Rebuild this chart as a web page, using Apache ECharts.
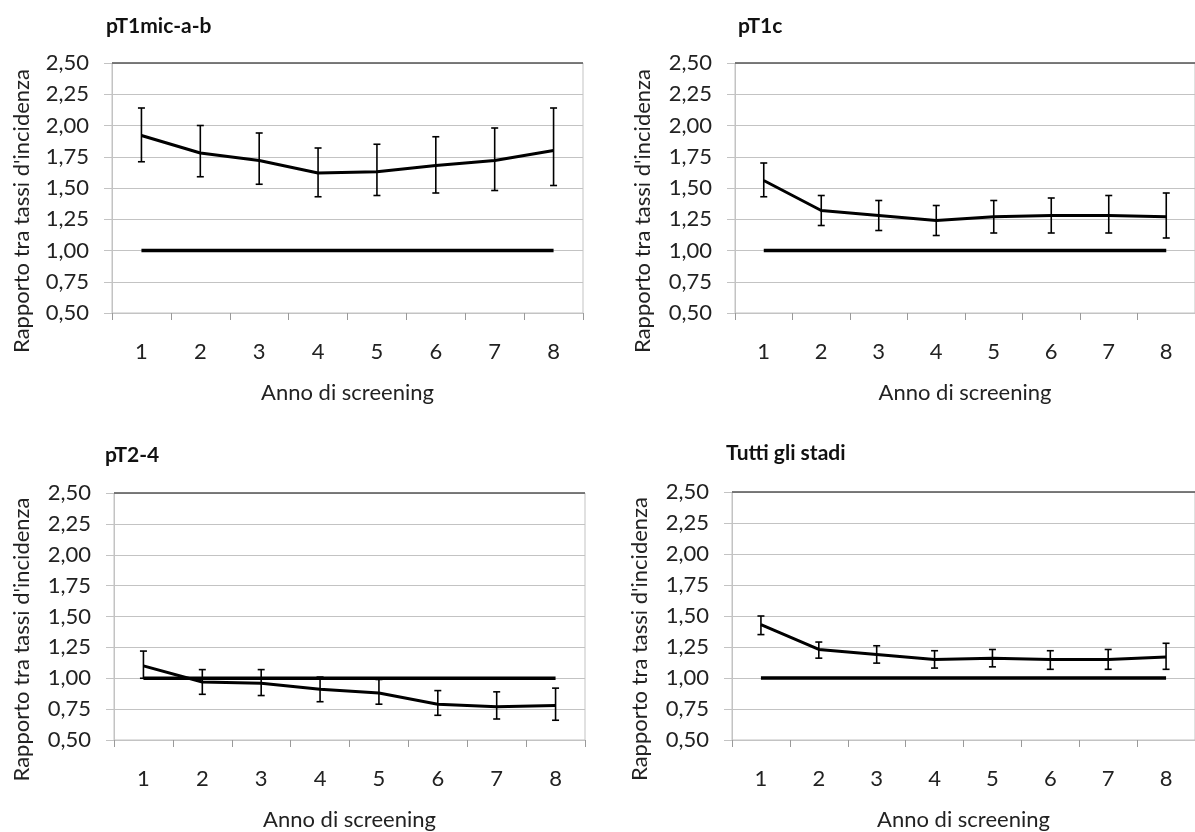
<!DOCTYPE html>
<html>
<head>
<meta charset="utf-8">
<script src="https://cdn.jsdelivr.net/npm/echarts@6/dist/echarts.min.js"></script>
<style>
  html, body { margin: 0; padding: 0; background: #ffffff; }
  #chart { width: 1195px; height: 832px; }
</style>
</head>
<body>
<div id="chart"></div>
<script>
// Screening years on the x axis
const years = ['1', '2', '3', '4', '5', '6', '7', '8'];
const yTicks = [0.5, 0.75, 1.0, 1.25, 1.5, 1.75, 2.0, 2.25, 2.5];
const reference = [1, 1, 1, 1, 1, 1, 1, 1];

// pT1mic-a-b
const rrMic = [1.92, 1.78, 1.72, 1.62, 1.63, 1.68, 1.72, 1.80];
const loMic = [1.71, 1.59, 1.53, 1.43, 1.44, 1.46, 1.48, 1.52];
const hiMic = [2.14, 2.00, 1.94, 1.82, 1.85, 1.91, 1.98, 2.14];

// pT1c
const rrT1c = [1.56, 1.32, 1.28, 1.24, 1.27, 1.28, 1.28, 1.27];
const loT1c = [1.43, 1.20, 1.16, 1.12, 1.14, 1.14, 1.14, 1.10];
const hiT1c = [1.70, 1.44, 1.40, 1.36, 1.40, 1.42, 1.44, 1.46];

// pT2-4
const rrT24 = [1.10, 0.97, 0.96, 0.91, 0.88, 0.79, 0.77, 0.78];
const loT24 = [1.00, 0.87, 0.86, 0.81, 0.79, 0.70, 0.67, 0.66];
const hiT24 = [1.22, 1.07, 1.07, 1.01, 0.99, 0.90, 0.89, 0.92];

// Tutti gli stadi
const rrAll = [1.43, 1.23, 1.19, 1.15, 1.16, 1.15, 1.15, 1.17];
const loAll = [1.35, 1.16, 1.12, 1.08, 1.09, 1.07, 1.07, 1.07];
const hiAll = [1.50, 1.29, 1.26, 1.22, 1.23, 1.22, 1.23, 1.28];

const panels = [
  { title: 'pT1mic-a-b',      rr: rrMic, lo: loMic, hi: hiMic, grid: { left: 112, top: 63, width: 471, height: 250 }, tx: 106, ty: 16, nx: 22 },
  { title: 'pT1c',            rr: rrT1c, lo: loT1c, hi: hiT1c, grid: { left: 735, top: 63, width: 471, height: 250 }, tx: 738, ty: 16, nx: 643 },
  { title: 'pT2-4',           rr: rrT24, lo: loT24, hi: hiT24, grid: { left: 114, top: 493, width: 471, height: 249 }, tx: 105, ty: 445, nx: 22 },
  { title: 'Tutti gli stadi', rr: rrAll, lo: loAll, hi: hiAll, grid: { left: 732, top: 492, width: 472, height: 249 }, tx: 726, ty: 443, nx: 640 }
];

const FONT = 'Lato, "Open Sans", sans-serif';
const GRIDC = '#c3c3c3';
const FS = 22;

const fmt = v => v.toFixed(2).replace('.', ',');

const option = {
  animation: false,
  backgroundColor: '#ffffff',
  textStyle: { fontFamily: FONT },
  title: [],
  grid: [],
  xAxis: [],
  yAxis: [],
  series: []
};

panels.forEach((p, i) => {
  option.title.push({
    text: p.title, left: p.tx, top: p.ty, padding: 0,
    textStyle: { fontFamily: FONT, fontWeight: 'bold', fontSize: 21, color: '#111' }
  });
  option.grid.push(Object.assign({ show: true, borderColor: GRIDC, borderWidth: 1, backgroundColor: 'transparent' }, p.grid));
  option.xAxis.push({
    type: 'category', gridIndex: i, data: years, boundaryGap: true,
    name: 'Anno di screening', nameLocation: 'middle', nameGap: 69,
    nameTextStyle: { fontFamily: FONT, fontSize: FS, color: '#222' },
    axisLine: { lineStyle: { color: GRIDC, width: 1 } },
    axisTick: { show: true, length: 7, lineStyle: { color: '#9a9a9a' } },
    axisLabel: { fontFamily: FONT, fontSize: FS, color: '#222', margin: 28 },
    splitLine: { show: false }
  });
  option.yAxis.push({
    type: 'value', gridIndex: i, min: 0.5, max: 2.5, interval: 0.25,
    name: "Rapporto tra tassi d'incidenza", nameLocation: 'middle',
    nameGap: p.grid.left - p.nx - 11,
    // title sits a little below the plot's vertical centre
    nameTextStyle: { fontFamily: FONT, fontSize: FS, color: '#222', padding: [0, 46, 0, 0] },
    axisLine: { show: true, lineStyle: { color: GRIDC } },
    axisTick: { show: true, length: 8, lineStyle: { color: GRIDC } },
    axisLabel: { fontFamily: FONT, fontSize: FS, color: '#222', margin: 23, formatter: fmt },
    splitLine: { show: true, lineStyle: { color: GRIDC, width: 1 } }
  });

  // reference line at 1,00 and darker top edge at 2,50
  option.series.push({
    type: 'line', xAxisIndex: i, yAxisIndex: i, data: reference,
    symbol: 'none', lineStyle: { color: '#000', width: 3.5 }, z: 3,
    markLine: {
      silent: true, symbol: 'none', label: { show: false },
      lineStyle: { color: '#5a5a5a', width: 1.5, type: 'solid' },
      data: [{ yAxis: yTicks[yTicks.length - 1] }]
    }
  });
  // rate ratio line
  option.series.push({
    type: 'line', xAxisIndex: i, yAxisIndex: i, data: p.rr,
    symbol: 'none', lineStyle: { color: '#000', width: 3 }, z: 4
  });
  // confidence interval bars
  option.series.push({
    type: 'custom', xAxisIndex: i, yAxisIndex: i, z: 5,
    data: years.map((y, k) => [k, p.lo[k], p.hi[k]]),
    renderItem: (params, api) => {
      const x = api.value(0);
      const a = api.coord([x, api.value(1)]);
      const b = api.coord([x, api.value(2)]);
      const w = 3.5;
      const st = { stroke: '#000', lineWidth: 1.6 };
      return {
        type: 'group',
        children: [
          { type: 'line', shape: { x1: a[0], y1: a[1], x2: b[0], y2: b[1] }, style: st },
          { type: 'line', shape: { x1: a[0] - w, y1: a[1], x2: a[0] + w, y2: a[1] }, style: st },
          { type: 'line', shape: { x1: b[0] - w, y1: b[1], x2: b[0] + w, y2: b[1] }, style: st }
        ]
      };
    }
  });
});

const chart = echarts.init(document.getElementById('chart'), null, { renderer: 'canvas' });
chart.setOption(option);
</script>
</body>
</html>
